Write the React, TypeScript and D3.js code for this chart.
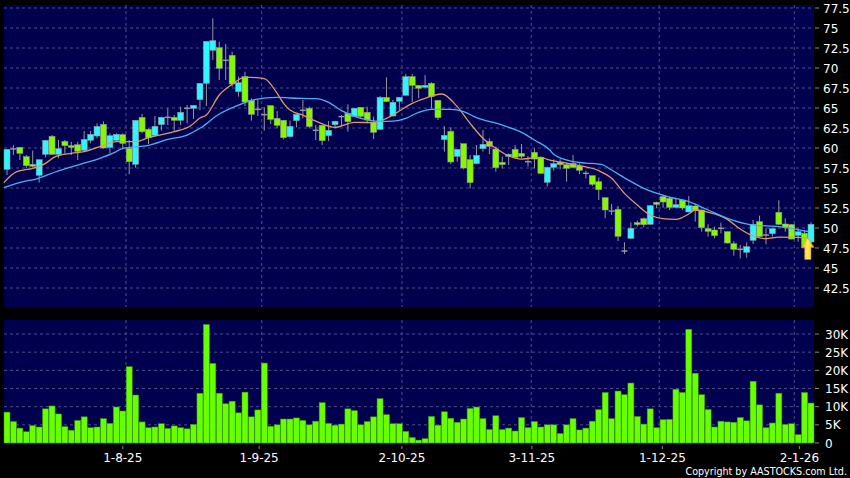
import React from "react";
import * as d3 from "d3";

const opens = [57.33,59.88,60.08,58.92,57.96,56.58,59.21,61.46,59.21,60.83,60.29,60.42,59.71,60.96,61.5,62.96,60.08,60.96,61.67,59.96,57.96,63.83,62.33,61.58,62.92,63.83,63.83,63.46,64.96,64.96,66.04,68.08,72.21,72.54,70.96,71.58,67.04,68.92,65.92,64.83,64.17,65.29,63.71,63.46,61.42,63.42,64.71,64.96,62.21,62.83,61.54,62.92,63.92,64.33,63.96,65.08,64.46,63.17,62.33,66.33,64,65.83,66.58,68.92,67.83,67.58,68.08,65.96,61.04,62.08,58.96,60.54,58.54,58.04,59.92,60.83,59.87,58.21,58.96,59.83,59.33,58.29,59.46,58.83,55.71,57.58,58.21,57.92,58.08,57.75,56.83,56.54,55.79,53.79,52.12,52.33,47.12,48.71,50.67,51.17,50.46,53.21,53.92,53.71,52.58,53.5,52,52.75,52.25,49.92,49.75,49.96,49.54,48.04,47.33,46.96,48.46,50.79,49.12,49.29,51.96,50.5,50.42,49.08,49.33,48.25];
const highs = [59.83,60.37,60.08,59.12,59.67,58.54,60.96,61.62,61,61,60.79,60.79,62.12,62.12,63.08,63.33,61.83,61.83,61.83,61,63.46,64.25,62.46,64,63.92,64.96,64.12,65.17,65.37,65.33,68.08,73.33,76.21,73.29,73,72.04,68.92,69.54,66.21,66,65.08,65.29,64.62,63.46,63.42,64.21,66,65.17,62.87,62.83,63.37,63.42,64.12,65.46,64.96,65.08,65.17,63.92,66.5,68.83,66,66.33,69.25,69.25,67.83,69.12,68.21,65.96,62.75,62.58,59.83,60.54,59.12,60.37,62.25,61.21,60.17,58.92,59.33,60.37,60.5,59,59.96,58.92,57.67,58.58,58.58,58.08,59.12,58.08,57.17,56.54,56.33,53.79,53,52.75,48.21,50.71,50.92,51.29,52.87,53.29,54.04,53.92,53.71,53.62,54,53,52.33,50.46,50.17,50.67,49.54,48.37,47.87,48.17,51,51.54,49.96,49.96,53.46,51.21,50.5,49.96,49.75,50.71];
const lows = [56.62,59.12,58.5,57.46,57.54,55.67,58.83,59.12,58.71,59.33,59.12,58.5,59.54,60.58,61.21,59.92,59.33,60.79,59.83,56.71,57.54,61.83,60.5,61.42,62.17,62.87,62.17,62.87,63.08,63.62,64.75,65.25,71,68.5,68.5,67.67,66.42,65.25,63.42,64,62.17,63,62.46,61.08,61.33,62.58,63.71,62.46,61,60.37,60.87,62.46,62.75,62.04,63.92,63.71,63.08,61.12,62.25,65.79,63.92,64.75,66.58,65.75,66.21,67.54,64.96,63.5,59.54,58,58.29,57.33,54.96,58.04,59.54,59.25,57.04,57.46,57.87,58.62,58.71,57.67,57.46,56.75,55.17,57.17,57.33,55.79,57.46,56.75,56.21,55.25,53.5,51.21,51.62,48.37,46.75,48.62,50.17,50.08,50.46,52.46,52.54,52.25,52.46,52.25,51.96,50.79,49.54,48.92,48.71,49.33,48.08,46.54,46.21,46.29,48,48.83,47.96,48.92,50.37,49.54,48.58,48.29,47.58,48.08];
const closes = [59.83,59.88,59.33,57.79,57.71,58.54,60.96,59.21,59.92,60.29,60.08,59.58,61.08,61.71,62.71,60,61.54,61.71,60.58,58.29,63.46,62.04,61.29,62.71,63.83,63.83,63.46,64.46,64.96,65.33,68.08,73.33,73.42,69.96,70.96,68,68.17,65.75,64.21,64.83,64.17,63.58,62.83,61.29,62.71,64.21,64.71,62.67,62.21,60.92,62.21,63.33,63.92,63.29,64.96,63.96,63.5,61.96,66.33,65.79,65.71,66.33,68.92,67.83,67.46,67.83,66.42,63.79,61.58,58.25,59.83,57.5,55.67,59.08,60.46,60.21,57.54,57.92,59.21,58.83,58.96,58.29,58.62,56.83,57.58,58.04,57.92,57.46,57.58,57.21,56.83,55.46,54.79,52.25,52.12,48.96,47.12,49.96,50.42,50.42,52.79,52.96,53.25,52.58,52.92,52.5,52.79,52.17,50.04,49.58,49.04,49.96,48.12,47.33,47.33,47.67,50.46,48.92,49.12,49.92,50.46,50.12,48.62,49.54,47.58,50.46];
const volumes = [8.5,5.9,4.1,3.1,4.8,4.4,9.4,10.2,8,4.5,3.5,6.2,7.2,4.2,4.4,6.7,5.4,9.9,8.8,21,13.2,5.8,4.2,4.4,5.3,4,4.7,4.2,3.9,5.1,13.7,32.6,21.9,13.7,10.8,11.5,8.3,14,7.2,9.1,22,4.6,5,6.6,6.6,6.9,6.2,5,6,11.1,5.4,4.9,5.2,9.4,8.9,5,5.9,7.2,12.2,7.8,5.3,5.3,3.2,1.5,0.8,1.2,7.3,4.9,8.6,6.8,5.7,6.6,9.5,9.9,6.7,3.7,7.5,3.7,4.1,3.3,7,4.2,5.9,4.4,5,5,2.6,5,6.7,3.6,4.1,6,9.2,13.9,6.7,14.3,13.3,16.5,7.3,5.2,9.4,4.2,6.4,6.5,14.8,13.9,31.3,19.2,13.3,9.2,4.4,6,5.8,5.7,7,6.1,17,10.5,4.2,5.5,13.7,5.1,5.3,2.3,13.9,11];

const fastIdx = [-0.5,1.5,4,6,7.5,10,12,15,17,20,22,26,28.5,30,31,33,35,37,40,42,43,44,46,48,51,54,57,59,61,63,65,67.6,70,72,74,76,78,80,83,84,86,89,92,94,96,98,100,102,104,106,107,109,112,114,116,118,120,123,124.6];
const fastVal = [55.67,57.04,57.46,58.08,58.92,59.33,59.54,60.33,60.79,60.79,61.29,62.04,62.75,63.75,64.12,66.62,67.96,68.87,68.67,66.83,65.58,64.75,64.12,63.37,62.58,63.21,63.17,63.71,64.62,65.58,66.21,66.75,65.17,63.08,61.21,59.96,59,58.62,58.83,58.58,58.25,57.79,57.17,56.21,54.33,52.87,51.62,51.17,51.08,51.75,52.25,51.96,51.08,49.87,49,48.67,48.87,48.83,48.71];
const slowIdx = [-0.5,2.5,4.5,7.5,11,14,17,18,22,25,28,30,33,36,38.5,42,44,48,50,52,55,58,60,62,64,66,69,71,73,77,80,82,84.4,85,88,90,92.4,94,96.4,99,103,106,109,112,116,120,124.6];
const slowVal = [55.04,55.79,56.12,57,57.87,58.58,59.54,59.96,60.33,61.08,61.62,62.46,64.25,65.37,66.04,66.33,66.25,66.17,65.71,64.67,63.71,63.33,63.37,63.71,64.46,64.83,64.83,64.54,63.79,62.87,61.96,61,59.75,59.21,58.29,58.12,57.96,57.25,56.08,54.96,53.87,53.29,52.25,51.21,50.37,50.17,49.54];

const priceTicks = [77.5,75,72.5,70,67.5,65,62.5,60,57.5,55,52.5,50,47.5,45,42.5];
const volumeTicks = [0,5,10,15,20,25,30];
const gridIdx = [18.5,39.6,61.4,81.5,101.4,122.4];
const dateIdx = [18,39.2,61.4,81.6,101.9,123.2];
const dateLabels = ["1-8-25","1-9-25","2-10-25","3-11-25","1-12-25","2-1-26"];
const arrowIdx = 124.5;
const arrowPrice = 48.75;

const W = 850, H = 478;
const PL = 4, PR = 814;
const x = d3.scaleLinear().domain([0, 125]).range([7, 811]);
const yP = d3.scaleLinear().domain([42.5, 77.5]).range([288, 8]);
const yV = d3.scaleLinear().domain([0, 30]).range([443, 334]);
const PT = 5, PB = 307, VT = 320, VB = 443;
const NAVY = "#00004e", GRID = "#4e4e88", CYAN = "#30f4ff", GREEN = "#84f800", WICK = "#989898", FONT = "DejaVu Sans";

function ma(idx: number[], val: number[]) {
  const pts = idx.map((d, i) => [d, val[i]] as [number, number]);
  return d3.line<[number, number]>().x(d => x(d[0])).y(d => yP(d[1])).curve(d3.curveMonotoneX)(pts) as string;
}

export default function App() {
  const dash = "3 3";
  const ax = x(arrowIdx), ay = yP(arrowPrice);
  const arrow = `M${ax},${ay} L${ax + 6.5},${ay + 9.5} L${ax + 3.2},${ay + 9.5} L${ax + 3.2},${ay + 21.5} L${ax - 3.2},${ay + 21.5} L${ax - 3.2},${ay + 9.5} L${ax - 6.5},${ay + 9.5} Z`;
  return (
    <svg width={W} height={H} viewBox={`0 0 ${W} ${H}`} style={{ position: "absolute", left: 0, top: 0, background: "#000", display: "block" }}>
      <defs>
        <linearGradient id="arr" x1="0" x2="1" y1="0" y2="0">
          <stop offset="0" stopColor="#f0a810" />
          <stop offset="0.5" stopColor="#fff060" />
          <stop offset="1" stopColor="#f0a810" />
        </linearGradient>
      </defs>
      <rect x={PL} y={PT} width={PR - PL} height={PB - PT} fill={NAVY} />
      <rect x={PL} y={VT} width={PR - PL} height={VB - VT} fill={NAVY} />
      {priceTicks.map(t => (
        <g key={t}>
          <line x1={PL} x2={PR} y1={yP(t)} y2={yP(t)} stroke={GRID} strokeDasharray={dash} />
          <line x1={815} x2={819} y1={yP(t)} y2={yP(t)} stroke="#8a8a8a" />
          <text x={823} y={yP(t) + 4.5} fill="#fff" fontFamily={FONT} fontSize={12}>{t}</text>
        </g>
      ))}
      {volumeTicks.map(t => (
        <g key={t}>
          {t > 0 && <line x1={PL} x2={PR} y1={yV(t)} y2={yV(t)} stroke={GRID} strokeDasharray={dash} />}
          <line x1={815} x2={819} y1={yV(t)} y2={yV(t)} stroke="#8a8a8a" />
          <text x={825} y={yV(t) + 4.5} fill="#fff" fontFamily={FONT} fontSize={12}>{t === 0 ? "0" : `${t}K`}</text>
        </g>
      ))}
      {gridIdx.map(g => (
        <g key={g}>
          <line x1={x(g)} x2={x(g)} y1={PT} y2={PB} stroke={GRID} strokeDasharray={dash} />
          <line x1={x(g)} x2={x(g)} y1={VT} y2={VB} stroke={GRID} strokeDasharray={dash} />
        </g>
      ))}
      {dateIdx.map((d, i) => (
        <g key={d}>
          <line x1={x(d)} x2={x(d)} y1={446} y2={449} stroke="#8a8a8a" />
          <text x={x(d)} y={462} textAnchor="middle" fill="#fff" fontFamily={FONT} fontSize={12}>{dateLabels[i]}</text>
        </g>
      ))}
      {opens.map((o, i) => {
        const c = closes[i];
        const cx = x(i);
        const top = yP(Math.max(o, c)), bot = yP(Math.min(o, c));
        return (
          <g key={i}>
            <line x1={cx} x2={cx} y1={yP(highs[i])} y2={yP(lows[i])} stroke={WICK} />
            {o === c
              ? <line x1={cx - 3} x2={cx + 3} y1={top} y2={top} stroke={WICK} strokeWidth={1.5} />
              : <rect x={cx - 3} y={top} width={6} height={Math.max(bot - top, 1.5)} fill={c > o ? CYAN : GREEN} stroke={WICK} strokeWidth={0.5} />}
          </g>
        );
      })}
      <path d={ma(fastIdx, fastVal)} fill="none" stroke="#e0986a" strokeWidth={1.3} />
      <path d={ma(slowIdx, slowVal)} fill="none" stroke="#4cb0f0" strokeWidth={1.3} />
      <path d={arrow} fill="url(#arr)" stroke="#c88a10" strokeWidth={0.4} />
      {volumes.map((v, i) => (
        <rect key={i} x={x(i) - 3} y={yV(v)} width={6} height={VB - yV(v)} fill="#68ff00" stroke="#3a9a08" strokeWidth={0.5} />
      ))}
      <text x={847} y={475} textAnchor="end" fill="#fff" fontFamily={FONT} fontSize={9.6}>Copyright by AASTOCKS.com Ltd.</text>
    </svg>
  );
}
